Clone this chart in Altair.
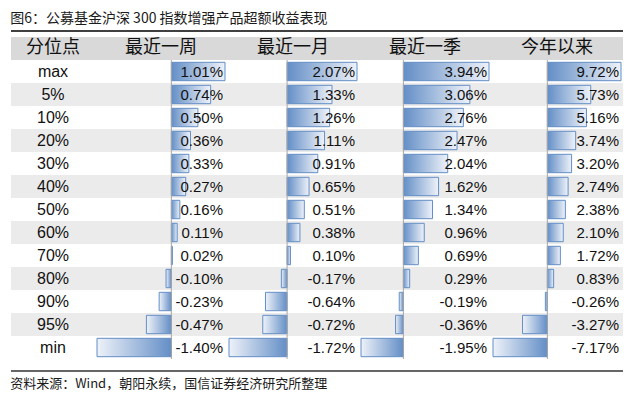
import altair as alt
import pandas as pd

# ---------------- data ----------------
rows = ["max", "5%", "10%", "20%", "30%", "40%", "50%", "60%", "70%", "80%", "90%", "95%", "min"]
week = [1.01, 0.74, 0.50, 0.36, 0.33, 0.27, 0.16, 0.11, 0.02, -0.10, -0.23, -0.47, -1.40]
month = [2.07, 1.33, 1.26, 1.11, 0.91, 0.65, 0.51, 0.38, 0.10, -0.17, -0.64, -0.72, -1.72]
quarter = [3.94, 3.06, 2.76, 2.47, 2.04, 1.62, 1.34, 0.96, 0.69, 0.29, -0.19, -0.36, -1.95]
ytd = [9.72, 5.73, 5.16, 3.74, 3.20, 2.74, 2.38, 2.10, 1.72, 0.83, -0.26, -3.27, -7.17]
headers = ["分位点", "最近一周", "最近一月", "最近一季", "今年以来"]
title_text = "图6：公募基金沪深 300 指数增强产品超额收益表现"
source_text = "资料来源：Wind，朝阳永续，国信证券经济研究所整理"

# ---------------- style ----------------
HDR = "__hdr__"
ydomain = [HDR] + rows
STEP = 23
H = STEP * len(ydomain)
W0 = 84
W = 132
BLUE = "#638ec6"
LIGHT = "#eef2f9"
CJK = "Noto Sans CJK SC"
LAT = "Liberation Sans"
TXT = "#111111"

yscale = alt.Scale(domain=ydomain, paddingInner=0, paddingOuter=0)
shade_scale = alt.Scale(domain=["header", "grey", "white"], range=["#d9d9d9", "#ebebeb", "#ffffff"])

shade_df = pd.DataFrame({
    "row": ydomain,
    "shade": ["header"] + ["white" if i % 2 == 0 else "grey" for i in range(len(rows))],
})
one = pd.DataFrame({"a": [0]})

grad_pos = alt.LinearGradient(
    gradient="linear",
    stops=[alt.GradientStop(color=BLUE, offset=0), alt.GradientStop(color=LIGHT, offset=1)],
    x1=0, x2=1, y1=0, y2=0,
)
grad_neg = alt.LinearGradient(
    gradient="linear",
    stops=[alt.GradientStop(color=LIGHT, offset=0), alt.GradientStop(color=BLUE, offset=1)],
    x1=0, x2=1, y1=0, y2=0,
)


def shading(width):
    return alt.Chart(shade_df).mark_rect().encode(
        y=alt.Y("row:N", scale=yscale, axis=None, sort=ydomain),
        x=alt.value(0),
        x2=alt.value(width),
        color=alt.Color("shade:N", scale=shade_scale, legend=None),
    )


def frame_lines(width):
    top = alt.Chart(one).mark_rule(color="#000000", strokeWidth=1.6).encode(
        x=alt.value(0), x2=alt.value(width), y=alt.value(-6)
    )
    bottom = alt.Chart(one).mark_rule(color="#333333", strokeWidth=1.4).encode(
        x=alt.value(0), x2=alt.value(width), y=alt.value(H + 12)
    )
    return top + bottom


def header(text, width):
    return alt.Chart(pd.DataFrame({"row": [HDR], "h": [text]})).mark_text(
        align="center", baseline="middle", font=CJK, fontSize=18, color=TXT, dy=-1
    ).encode(
        y=alt.Y("row:N", scale=yscale, axis=None, sort=ydomain),
        x=alt.value(width / 2),
        text="h:N",
    )


# ---- label column ----
lab_df = pd.DataFrame({"row": rows})
label_panel = alt.layer(
    shading(W0),
    frame_lines(W0),
    header(headers[0], W0),
    alt.Chart(lab_df).mark_text(
        align="center", baseline="middle", font=LAT, fontSize=16, color=TXT
    ).encode(
        y=alt.Y("row:N", scale=yscale, axis=None, sort=ydomain),
        x=alt.value(W0 / 2),
        text="row:N",
    ),
).properties(width=W0, height=H)


def value_panel(title, values, width=W):
    df = pd.DataFrame({
        "row": rows,
        "v": values,
        "label": [f"{v:.2f}%" for v in values],
    })
    xs = alt.Scale(zero=True, nice=False, padding=2)
    ych = alt.Y("row:N", scale=yscale, axis=None, sort=ydomain)
    pos = alt.Chart(df).transform_filter("datum.v >= 0").mark_bar(
        fill=grad_pos, stroke=BLUE, strokeWidth=1, height={"band": 0.8}
    ).encode(x=alt.X("v:Q", scale=xs, axis=None), y=ych)
    neg = alt.Chart(df).transform_filter("datum.v < 0").mark_bar(
        fill=grad_neg, stroke=BLUE, strokeWidth=1, height={"band": 0.8}
    ).encode(x=alt.X("v:Q", scale=xs, axis=None), y=ych)
    axis_line = alt.Chart(one).mark_rule(color="#a6a6a6", strokeWidth=1).encode(
        x=alt.X(datum=0, scale=xs, axis=None), y=alt.value(STEP), y2=alt.value(H)
    )
    labels = alt.Chart(df).mark_text(
        align="right", baseline="middle", font=LAT, fontSize=15, color=TXT
    ).encode(y=ych, x=alt.value(width - 4), text="label:N")
    return alt.layer(
        shading(width), frame_lines(width), pos, neg, axis_line, labels, header(title, width)
    ).properties(width=width, height=H)


table = alt.hconcat(
    label_panel,
    value_panel(headers[1], week),
    value_panel(headers[2], month),
    value_panel(headers[3], quarter),
    value_panel(headers[4], ytd),
    spacing=0,
    bounds="flush",
).resolve_scale(x="independent").properties(
    title=alt.TitleParams(
        source_text, orient="bottom", anchor="start", font=CJK, fontSize=13,
        fontWeight="normal", color="#1a1a1a", offset=6,
    )
)

chart = alt.vconcat(table).properties(
    title=alt.TitleParams(
        title_text, anchor="start", font=CJK, fontSize=14, fontWeight="normal",
        color="#1a1a1a", offset=4, baseline="top",
    ),
    padding={"left": 2, "top": 4, "right": 0, "bottom": 0},
).configure_view(stroke=None)

chart.save("out.html", embed_options={"renderer": "svg", "actions": False})
